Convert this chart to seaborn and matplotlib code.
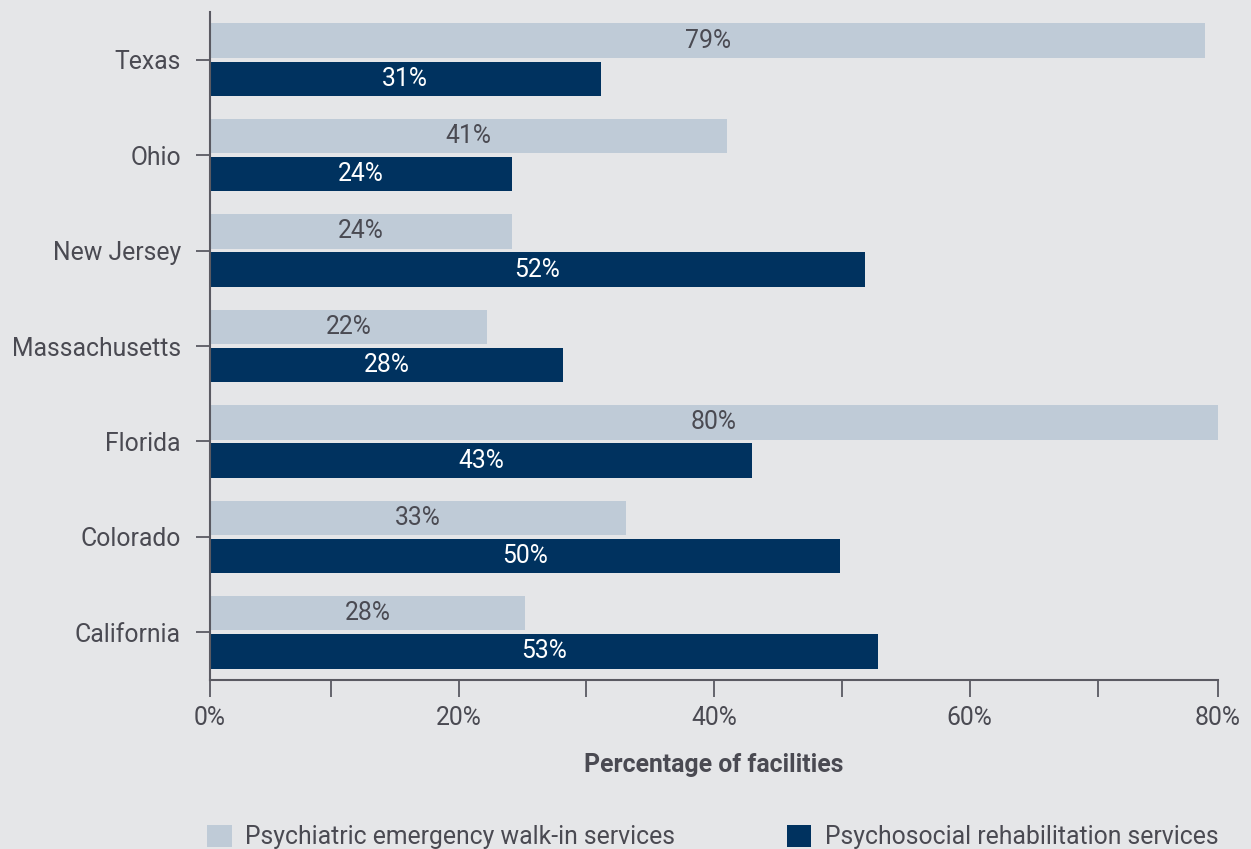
import matplotlib
matplotlib.use("Agg")
import matplotlib.pyplot as plt
from matplotlib.patches import Patch
import seaborn as sns
import pandas as pd

states = ["Texas", "Ohio", "New Jersey", "Massachusetts", "Florida", "Colorado", "California"]
series = ["Psychiatric emergency walk-in services", "Psychosocial rehabilitation services"]
walkin = [79, 41, 24, 22, 80, 33, 25]
walkin_labels = ["79%", "41%", "24%", "22%", "80%", "33%", "28%"]
rehab = [31, 24, 52, 28, 43, 50, 53]
rehab_labels = ["31%", "24%", "52%", "28%", "43%", "50%", "53%"]
xticks = [0, 9.6, 19.75, 29.85, 40, 50.15, 60.3, 70.5, 80]
xtick_labels = ["0%", "", "20%", "", "40%", "", "60%", "", "80%"]

BG = "#e5e6e8"
LIGHT = "#bfcbd7"
NAVY = "#00325f"
TXT = "#4a4a52"
AX = "#5a5a62"
FS = 17.8

sns.set_theme(style="white")
plt.rcParams["font.family"] = ["Roboto", "DejaVu Sans"]

df = pd.DataFrame({
    "state": states * 2,
    "series": [series[0]] * len(states) + [series[1]] * len(states),
    "value": walkin + rehab,
})

fig = plt.figure(figsize=(12.51, 8.49), dpi=100, facecolor=BG)
ax = fig.add_axes([210 / 1251, 1 - 680 / 849, (1218 - 210) / 1251, (680 - 12) / 849])
ax.set_facecolor(BG)

sns.barplot(data=df, y="state", x="value", hue="series", order=states,
            hue_order=series, palette=[LIGHT, NAVY], orient="h",
            width=0.8, gap=0.1, saturation=1, linewidth=0, legend=False, ax=ax)

conts = ax.containers
ax.bar_label(conts[0], labels=walkin_labels, label_type="center",
             color=TXT, fontsize=FS)
ax.bar_label(conts[1], labels=rehab_labels, label_type="center",
             color="white", fontsize=FS)

ax.set_xlim(0, 80)
ax.set_ylim(6.5, -0.5)
ax.set_xticks(xticks)
ax.set_xticklabels(xtick_labels)
ax.tick_params(axis="x", length=12, width=1.3, color=AX, pad=7,
               labelsize=FS, labelcolor=TXT, bottom=True)
ax.tick_params(axis="y", length=10, width=1.3, color=AX, pad=11,
               labelsize=FS, labelcolor=TXT, left=True)
for s in ["top", "right"]:
    ax.spines[s].set_visible(False)
for s in ["left", "bottom"]:
    ax.spines[s].set_color(AX)
    ax.spines[s].set_linewidth(1.5)
ax.set_ylabel("")
ax.set_xlabel("Percentage of facilities", fontsize=FS, fontweight="bold",
              color=TXT, labelpad=16)

handles = [Patch(facecolor=LIGHT, edgecolor="none"), Patch(facecolor=NAVY, edgecolor="none")]
fig.legend(handles, series, loc="center left", bbox_to_anchor=(207 / 1251, 1 - 837 / 849),
           ncol=2, frameon=False, fontsize=FS, labelcolor=TXT,
           handlelength=1.0, handleheight=1.05, handletextpad=0.55,
           columnspacing=4.5, borderpad=0, borderaxespad=0)

fig.savefig("out.png", dpi=100, facecolor=BG)
